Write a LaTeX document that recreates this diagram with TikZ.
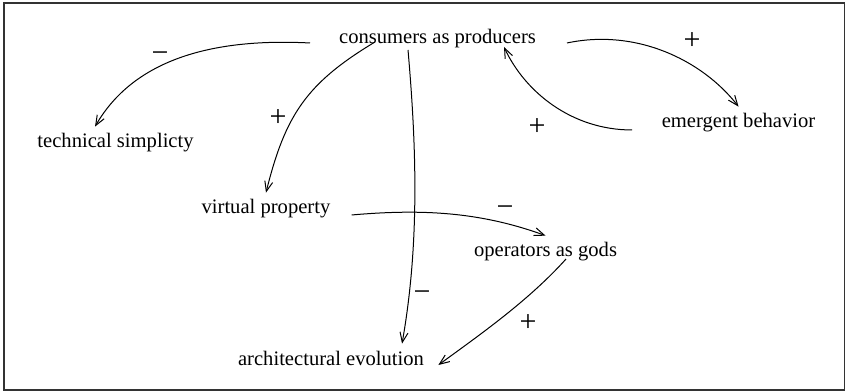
\documentclass[tikz,border=0pt]{standalone}
\usepackage{fontspec}
\setmainfont{Liberation Serif}
\usetikzlibrary{arrows.meta}

\begin{document}
\begin{tikzpicture}[
    every node/.style={font=\fontsize{10.3}{12}\selectfont},
    concept/.style={anchor=base, inner sep=0.3333em},
    sign/.style={font=\fontsize{15}{15}\selectfont, inner sep=0pt},
    arrow/.style={-{Straight Barb[length=5pt, width=4pt]}, line width=0.5pt},
    frame/.style={line width=0.8pt, black!80}
]
\useasboundingbox (0,0) rectangle (14.866,6.888);

% ============ FRAME ============
\draw[frame] (0.070,0.035) rectangle (14.840,6.836);

% ============ CONCEPTS ============
\node[concept] (prod)  at (7.688, 6.115) {consumers as producers};
\node[concept] (simp)  at (2.030, 4.288) {technical simplicty};
\node[concept] (virt)  at (4.674, 3.128) {virtual property};
\node[concept] (emerg) at (12.978, 4.639) {emergent behavior};
\node[concept] (gods)  at (9.586, 2.372) {operators as gods};
\node[concept] (evol)  at (5.817, 0.474) {architectural evolution};

% ============ INFLUENCES ============
\draw[arrow] ([xshift=-63.75pt,yshift=0.5pt]prod.base)
    to[out=177, in=60, out distance=55pt, in distance=35pt] ([xshift=-10.25pt]simp.north);
\draw[arrow] ([xshift=-31.25pt,yshift=1pt]prod.base)
    to[out=211, in=76, out distance=40pt, in distance=40pt] (virt.north);
\draw[arrow] ([xshift=-14.75pt,yshift=-3pt]prod.base)
    to[out=-85, in=80, out distance=50pt, in distance=50pt] ([xshift=35.5pt]evol.north);
\draw[arrow] ([xshift=64.75pt,yshift=0.5pt]prod.base)
    to[out=12, in=128, out distance=35pt, in distance=30pt] (emerg.north);
\draw[arrow] ([xshift=-53.25pt,yshift=-1pt]emerg.base)
    to[out=180, in=-65, out distance=30pt, in distance=25pt] ([xshift=33.25pt,yshift=-1.5pt]prod.base);
\draw[arrow] ([xshift=42.85pt,yshift=-0.5pt]virt.base)
    to[out=5, in=160, out distance=35pt, in distance=35pt] (gods.north);
\draw[arrow] ([xshift=10.25pt,yshift=-1pt]gods.base)
    to[out=228, in=36, out distance=27.5pt, in distance=27.5pt] ([xshift=53.65pt]evol.base);

% Signs
\node[sign] (sgn1) at (2.812, 5.887) {−};
\node[sign] (sgn2) at (4.885, 4.815) {+};
\node[sign] (sgn3) at (7.416, 1.687) {−};
\node[sign] (sgn4) at (12.161, 6.168) {+};
\node[sign] (sgn5) at (9.437, 4.657) {+};
\node[sign] (sgn6) at (8.874, 3.181) {−};
\node[sign] (sgn7) at (9.278, 1.213) {+};

\end{tikzpicture}
\end{document}
